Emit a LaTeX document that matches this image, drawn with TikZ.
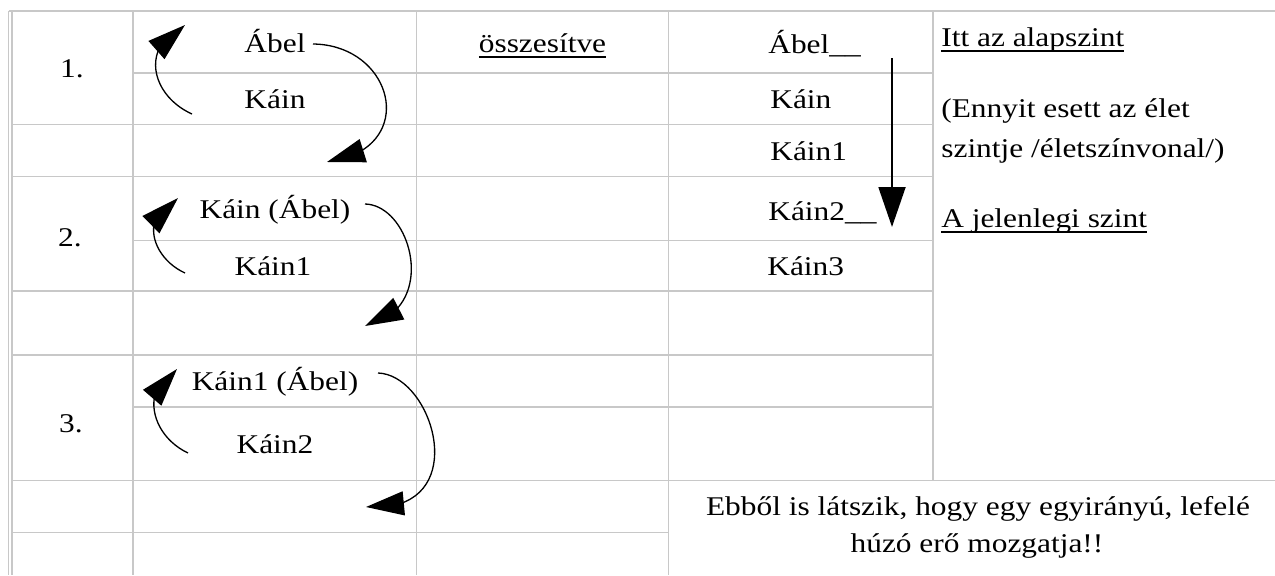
\documentclass[tikz,border=0pt]{standalone}
\usepackage{fontspec}
\setmainfont{Liberation Serif}[FakeStretch=1.16]
\usetikzlibrary{arrows.meta,bending}
\definecolor{gridc}{RGB}{200,200,200}
\newcommand\myul[1]{\setbox0=\hbox{#1}\rlap{\rule[-3.2pt]{\wd0}{0.8pt}}\box0}
\begin{document}
\begin{tikzpicture}[x=0.02cm,y=-0.02cm,
  gridline/.style={draw=gridc,line width=0.9pt},
  txt/.style={inner sep=0pt,anchor=base,font=\fontsize{15.4pt}{18pt}\selectfont},
  txtw/.style={txt,anchor=base west},
  curv/.style={draw=black,line width=0.75pt,-{Triangle[length=0.76cm,width=0.48cm,flex]}},
  straightarrow/.style={draw=black,line width=1.1pt,-{Triangle[length=0.8cm,width=0.54cm]}}
]
\useasboundingbox (0,0) rectangle (1275,575);
% vertical grid lines
\draw[gridline] (8.5,11) -- (8.5,575);
\draw[gridline] (12,11) -- (12,575);
\draw[gridline] (133,11) -- (133,575);
\draw[gridline] (416.5,11) -- (416.5,575);
\draw[gridline] (668.5,11) -- (668.5,575);
\draw[gridline] (933,11) -- (933,480.5);
% horizontal grid lines
\draw[gridline] (8.5,11) -- (1275,11);
\draw[gridline] (133,73) -- (933,73);
\draw[gridline] (12,124.5) -- (933,124.5);
\draw[gridline] (12,176.5) -- (933,176.5);
\draw[gridline] (133,240.5) -- (933,240.5);
\draw[gridline] (12,291) -- (933,291);
\draw[gridline] (12,355) -- (933,355);
\draw[gridline] (133,407) -- (933,407);
\draw[gridline] (12,480.5) -- (1275,480.5);
\draw[gridline] (12,532.5) -- (668.5,532.5);
% texts
\node[txt] (n1) at (72,77) {1.};
\node[txt] (n2) at (70,246) {2.};
\node[txt] (n3) at (71,432) {3.};
\node[txt] (a1) at (275,52) {Ábel};
\node[txt] (k1) at (275,108) {Káin};
\node[txt] (a2) at (275,218) {Káin (Ábel)};
\node[txt] (k2) at (273,275) {Káin1};
\node[txt] (a3) at (275,390) {Káin1 (Ábel)};
\node[txt] (k3) at (275,453) {Káin2};
\node[txt] (ossz) at (542.5,52) {\myul{összesítve}};
\node[txtw] (c1) at (768,53) {Ábel\_\_};
\node[txtw] (c2) at (770,108) {Káin};
\node[txtw] (c3) at (770,160) {Káin1};
\node[txtw] (c4) at (768,220) {Káin2\_\_};
\node[txtw] (c5) at (767,275) {Káin3};
\node[txtw] (r1) at (941,46) {\myul{Itt az alapszint}};
\node[txtw] (r2) at (941,117) {(Ennyit esett az élet};
\node[txtw] (r3) at (941,157) {szintje /életszínvonal/)};
\node[txtw] (r4) at (941,227) {\myul{A jelenlegi szint}};
\node[txt] (b1) at (978,515) {Ebből is látszik, hogy egy egyirányú, lefelé};
\node[txt] (b2) at (977,552) {húzó erő mozgatja!!};
% arrow end points
\coordinate (L1s) at (192,114); \coordinate (L1e) at (185,25);
\coordinate (R1s) at (313,44);  \coordinate (R1e) at (327,162);
\coordinate (L2s) at (185,273); \coordinate (L2e) at (178,198);
\coordinate (R2s) at (365,204); \coordinate (R2e) at (365,326);
\coordinate (L3s) at (188,453); \coordinate (L3e) at (177,369);
\coordinate (R3s) at (378,373); \coordinate (R3e) at (366,507);
\coordinate (Vs) at (892,58);   \coordinate (Ve) at (892,227);
% arrows
\draw[curv] (L1s) .. controls (150,95) and (140,45) .. (L1e);
\draw[curv] (R1s) .. controls (395,45) and (420,150) .. (R1e);
\draw[curv] (L2s) .. controls (152,258) and (138,215) .. (L2e);
\draw[curv] (R2s) .. controls (412,205) and (440,310) .. (R2e);
\draw[curv] (L3s) .. controls (150,435) and (140,387) .. (L3e);
\draw[curv] (R3s) .. controls (435,375) and (475,515) .. (R3e);
\draw[straightarrow] (Vs) -- (Ve);
\end{tikzpicture}
\end{document}
